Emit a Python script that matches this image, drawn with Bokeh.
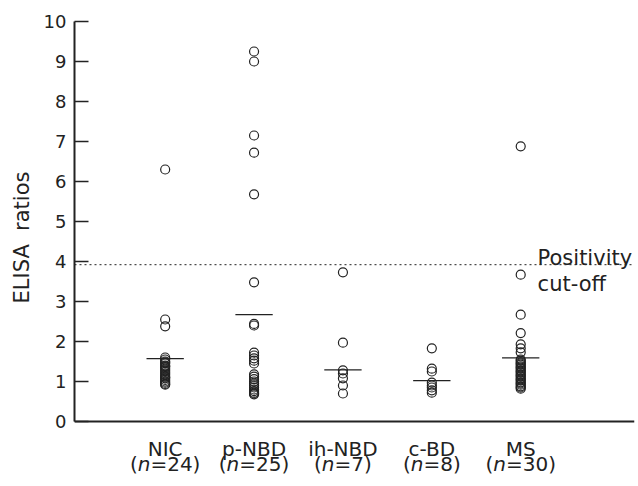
from bokeh.plotting import figure
from bokeh.models import Range1d, FixedTicker, Label, Span, Title
from bokeh.embed import file_html
from bokeh.resources import INLINE

categories = ["NIC", "p-NBD", "ih-NBD", "c-BD", "MS"]
counts = [24, 25, 7, 8, 30]
nic = [6.30, 2.55, 2.38, 1.60, 1.55, 1.50, 1.45, 1.40, 1.36, 1.32, 1.28, 1.24,
       1.20, 1.16, 1.12, 1.08, 1.04, 1.00, 0.97, 0.94, 0.92, 1.48, 1.38, 1.10]
p_nbd = [9.25, 9.00, 7.15, 6.72, 5.68, 3.48, 2.44, 2.40, 1.72, 1.65, 1.58, 1.52,
         1.45, 1.18, 1.12, 1.06, 1.00, 0.95, 0.90, 0.85, 0.80, 0.76, 0.72, 0.70, 0.68]
ih_nbd = [3.73, 1.97, 1.28, 1.20, 1.08, 0.90, 0.70]
c_bd = [1.83, 1.32, 1.25, 0.97, 0.90, 0.85, 0.78, 0.72]
ms = [6.88, 3.67, 2.67, 2.21, 1.93, 1.83, 1.73, 1.55, 1.52, 1.48, 1.45, 1.42,
      1.38, 1.35, 1.32, 1.28, 1.25, 1.22, 1.18, 1.15, 1.12, 1.08, 1.05, 1.02,
      0.98, 0.95, 0.92, 0.88, 0.85, 0.82]
group_lines = [1.57, 2.67, 1.29, 1.02, 1.59]
cutoff = 3.92
y_ticks = list(range(0, 11))
y_min, y_max = 0, 10

groups = [nic, p_nbd, ih_nbd, c_bd, ms]
positions = [i + 1 for i in range(len(categories))]

INK = "#222222"
FONT = "DejaVu Sans"

W, H = 636, 484
LEFT, TOP, RIGHT = 72, 21, 634
px_per_y = 40.0
px_per_x = 89.2
x_left = 1 - (163 - LEFT) / px_per_x
x_right = x_left + (RIGHT - LEFT) / px_per_x
y_bottom = y_max - (H - TOP) / px_per_y

p = figure(width=W, height=H, output_backend="svg", toolbar_location=None,
           x_range=Range1d(x_left, x_right), y_range=Range1d(y_bottom, y_max),
           min_border_left=LEFT, min_border_right=W - RIGHT, min_border_top=TOP,
           min_border_bottom=0)
p.outline_line_color = None
p.xgrid.visible = False
p.ygrid.visible = False
p.xaxis.visible = False

# x axis line (drawn at y = 0 across the frame)
p.add_layout(Span(location=y_min, dimension="width", line_color=INK, line_width=2))

# cut-off line
p.add_layout(Span(location=cutoff, dimension="width", line_color=INK,
                  line_width=1, line_dash="2 3"))

# points
xs, ys = [], []
for pos, vals in zip(positions, groups):
    xs += [pos] * len(vals)
    ys += vals
p.scatter(xs, ys, marker="circle", size=9, fill_color=None, line_color=INK,
          line_width=1.2)

# group lines
half = 0.21
p.segment(x0=[x - half for x in positions], x1=[x + half for x in positions],
          y0=group_lines, y1=group_lines, line_color=INK, line_width=1.3)

# y axis
ya = p.yaxis[0]
ya.bounds = (y_min, y_max)
ya.axis_line_width = 2
ya.axis_line_color = INK
ya.major_label_text_color = INK
ya.major_label_text_font = FONT
ya.minor_tick_line_color = None
ya.ticker = FixedTicker(ticks=y_ticks)
ya.major_tick_in = 14
ya.major_tick_out = 0
ya.major_tick_line_width = 1.3
ya.major_tick_line_color = INK
ya.major_label_text_font_size = "18px"
ya.major_label_standoff = 8

p.add_layout(Title(text="ELISA\u00a0\u00a0ratios", align="left", offset=181, standoff=14,
                   text_font=FONT, text_font_size="21px", text_font_style="normal",
                   text_color=INK), "left")

# category labels (two rows)
row1_y = (421 - 448) / px_per_y
row2_y = (421 - 463) / px_per_y
p.text(x=positions, y=[row1_y] * len(positions), text=categories,
       text_font={"value": FONT}, text_font_size="20px", text_color=INK,
       text_align="center", text_baseline="alphabetic")

fs = 20
w_paren = 0.390 * fs
w_n = 0.634 * fs
px, poff, ptxt, nx, noff, rx, roff, rtxt = [], [], [], [], [], [], [], []
for pos, c in zip(positions, counts):
    rest = "=%d)" % c
    w_rest = (0.838 + 0.636 * len(str(c)) + 0.390) * fs
    total = w_paren + w_n + w_rest
    x0 = -total / 2
    px.append(pos); poff.append(x0); ptxt.append("(")
    nx.append(pos); noff.append(x0 + w_paren)
    rx.append(pos); roff.append(x0 + w_paren + w_n); rtxt.append(rest)

common = dict(text_font={"value": FONT}, text_font_size="20px", text_color=INK,
              text_align="left", text_baseline="alphabetic")
p.text(x=px, y=[row2_y] * len(px), text=ptxt, x_offset=poff, **common)
p.text(x=nx, y=[row2_y] * len(nx), text=["n"] * len(nx), x_offset=noff,
       text_font_style="italic", **common)
p.text(x=rx, y=[row2_y] * len(rx), text=rtxt, x_offset=roff, **common)

# cut-off annotation
p.add_layout(Label(x=5.19, y=4.1, text="Positivity", text_align="left",
                   text_baseline="alphabetic", text_font=FONT, text_font_size="21px",
                   text_color=INK))
p.add_layout(Label(x=5.19, y=3.45, text="cut-off", text_align="left",
                   text_baseline="alphabetic", text_font=FONT, text_font_size="21px",
                   text_color=INK))

open("out.html", "w").write(file_html(p, INLINE))
